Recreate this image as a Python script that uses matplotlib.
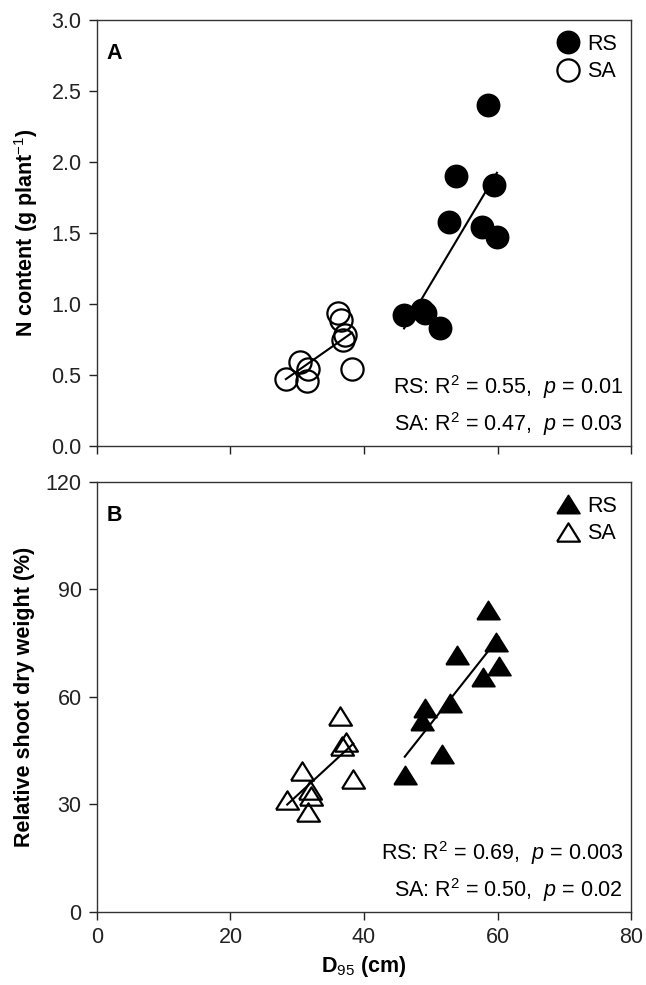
import numpy as np
import matplotlib
matplotlib.use("Agg")
import matplotlib.pyplot as plt

plt.rcParams["font.family"] = ["Liberation Sans", "DejaVu Sans"]
plt.rcParams["mathtext.fontset"] = "custom"
plt.rcParams["mathtext.rm"] = "Liberation Sans"
plt.rcParams["mathtext.it"] = "Liberation Sans:italic"
plt.rcParams["mathtext.bf"] = "Liberation Sans:bold"

# D95 (cm) and responses
rs_d95_a = [58.6, 53.8, 59.5, 52.7, 57.7, 59.9, 46.0, 48.7, 49.1, 51.4]
rs_n = [2.40, 1.90, 1.84, 1.58, 1.54, 1.47, 0.92, 0.96, 0.94, 0.83]
sa_d95_a = [36.1, 36.6, 37.2, 36.9, 38.2, 30.4, 31.6, 31.4, 28.3]
sa_n = [0.94, 0.89, 0.78, 0.75, 0.54, 0.59, 0.54, 0.46, 0.47]

rs_d95_b = [58.6, 59.8, 53.9, 60.2, 57.8, 52.9, 49.1, 48.7, 51.7, 46.1]
rs_sdw = [84.3, 75.4, 71.7, 68.7, 65.6, 58.3, 56.9, 53.3, 44.1, 38.2]
sa_d95_b = [36.4, 37.3, 36.7, 38.4, 30.7, 31.9, 32.0, 28.5, 31.6]
sa_sdw = [54.7, 47.4, 46.3, 37.1, 39.4, 34.0, 32.4, 31.3, 27.9]

stats_a = ["RS: R$^2$ = 0.55,  $\\it{p}$ = 0.01", "SA: R$^2$ = 0.47,  $\\it{p}$ = 0.03"]
stats_b = ["RS: R$^2$ = 0.69,  $\\it{p}$ = 0.003", "SA: R$^2$ = 0.50,  $\\it{p}$ = 0.02"]

TICK_FS = 15.5
LAB_FS = 15.5
TXT_FS = 15.5

# wide, flat triangle like the original
TRI = [(-1, -0.8), (1, -0.8), (0, 0.8), (-1, -0.8)]


def fit_line(ax, x, y):
    x = np.asarray(x); y = np.asarray(y)
    k, b = np.polyfit(x, y, 1)
    xs = np.array([x.min(), x.max()])
    ax.plot(xs, k * xs + b, color="black", lw=1.5, zorder=1)


def panel(ax, rx, ry, sx, sy, marker, ms, ylim, yticks, yfmt, letter, stats):
    ax.plot(rx, ry, ls="none", marker=marker, ms=ms, mfc="black", mec="black",
            mew=1.2, label="RS", zorder=3)
    ax.plot(sx, sy, ls="none", marker=marker, ms=ms, mfc="none", mec="black",
            mew=1.6, label="SA", zorder=3)
    fit_line(ax, rx, ry)
    fit_line(ax, sx, sy)
    ax.set_xlim(0, 80)
    ax.set_ylim(*ylim)
    ax.set_xticks([0, 20, 40, 60, 80])
    ax.set_yticks(yticks)
    ax.set_yticklabels([yfmt.format(v) for v in yticks])
    ax.tick_params(direction="out", length=6, width=1, labelsize=TICK_FS,
                   pad=5, colors="#222222")
    for s in ax.spines.values():
        s.set_linewidth(1)
        s.set_color("#333333")
    ax.text(0.018, 0.945, letter, transform=ax.transAxes, fontsize=TXT_FS,
            fontweight="bold", va="top")
    ax.legend(loc="upper right", frameon=False, fontsize=TXT_FS,
              handletextpad=0.25, borderaxespad=0.25, labelspacing=0.3,
              handlelength=1.3)
    ax.text(0.985, 0.138, stats[0], transform=ax.transAxes, fontsize=TXT_FS,
            ha="right", va="center")
    ax.text(0.985, 0.052, stats[1], transform=ax.transAxes, fontsize=TXT_FS,
            ha="right", va="center")


fig = plt.figure(figsize=(6.46, 9.85), dpi=100)
ax1 = fig.add_axes([0.150, 0.547, 0.827, 0.433])
ax2 = fig.add_axes([0.150, 0.074, 0.827, 0.437])

panel(ax1, rs_d95_a, rs_n, sa_d95_a, sa_n, "o", 16, (0, 3.0),
      [0, 0.5, 1.0, 1.5, 2.0, 2.5, 3.0], "{:.1f}", "A", stats_a)
ax1.set_xticklabels([])
ax1.set_ylabel("N content (g plant$^{-1}$)", fontsize=LAB_FS, fontweight="bold",
               labelpad=8)

panel(ax2, rs_d95_b, rs_sdw, sa_d95_b, sa_sdw, TRI, 16.5, (0, 120),
      [0, 30, 60, 90, 120], "{:.0f}", "B", stats_b)
ax2.set_ylabel("Relative shoot dry weight (%)", fontsize=LAB_FS,
               fontweight="bold", labelpad=8)
ax2.set_xlabel("D$_{95}$ (cm)", fontsize=LAB_FS, fontweight="bold", labelpad=4)

fig.savefig("out.png", dpi=100, facecolor="white")
